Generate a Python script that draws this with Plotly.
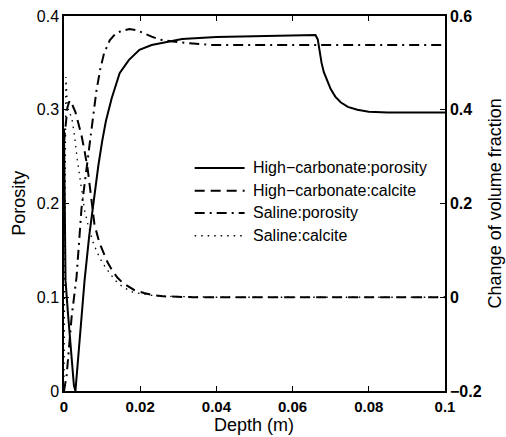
import plotly.graph_objects as go

# ---- data -------------------------------------------------------------
hc_por_depth = [0.0, 0.0002, 0.0004, 0.0010, 0.0018, 0.0026, 0.0030, 0.0042, 0.0054,
                0.0066, 0.0080, 0.0090, 0.0100, 0.0110, 0.0125, 0.0146, 0.0170, 0.0198,
                0.0230, 0.0270, 0.0310, 0.0400, 0.0500, 0.0600, 0.0660, 0.0666, 0.0670,
                0.0676, 0.0682, 0.0690, 0.0700, 0.0712, 0.0726, 0.0745, 0.0770, 0.0800,
                0.0850, 0.0900, 0.1000]
hc_por = [0.280, 0.200, 0.118, 0.085, 0.046, 0.006, 0.000, 0.058, 0.118,
          0.165, 0.210, 0.240, 0.266, 0.288, 0.312, 0.339, 0.353, 0.364,
          0.369, 0.372, 0.3755, 0.3775, 0.3785, 0.3792, 0.3797, 0.375, 0.365,
          0.350, 0.340, 0.331, 0.322, 0.314, 0.308, 0.303, 0.300, 0.298,
          0.297, 0.297, 0.297]

hc_cal_depth = [0.0, 0.0004, 0.0009, 0.0015, 0.0022, 0.0030, 0.0038, 0.0046, 0.0054,
                0.0062, 0.0068, 0.0080, 0.0093, 0.0105, 0.0114, 0.0128, 0.0140, 0.0155,
                0.0170, 0.0185, 0.0210, 0.0230, 0.0260, 0.0300, 0.0340, 0.0600, 0.1000]
hc_cal = [0.33, 0.37, 0.405, 0.42, 0.41, 0.395, 0.372, 0.345, 0.312,
          0.275, 0.235, 0.155, 0.116, 0.092, 0.075, 0.055, 0.042, 0.030,
          0.022, 0.015, 0.009, 0.005, 0.002, 0.0005, 0.0, 0.0, 0.0]

sal_por_depth = [0.0, 0.0007, 0.0020, 0.0033, 0.0046, 0.0056, 0.0065, 0.0075, 0.0085,
                 0.0095, 0.0105, 0.0120, 0.0135, 0.0150, 0.0172, 0.0190, 0.0206, 0.0230,
                 0.0250, 0.0280, 0.0330, 0.0390, 0.0500, 0.0700, 0.1000]
sal_por = [0.0, 0.017, 0.079, 0.122, 0.195, 0.228, 0.258, 0.288, 0.320,
           0.343, 0.360, 0.374, 0.381, 0.384, 0.386, 0.385, 0.382, 0.378,
           0.375, 0.373, 0.371, 0.369, 0.369, 0.369, 0.369]

sal_cal_depth = [0.0, 0.0005, 0.0007, 0.0009, 0.0020, 0.0028, 0.0035, 0.0046, 0.0054,
                 0.0062, 0.0075, 0.0088, 0.0101, 0.0114, 0.0133, 0.0154, 0.0180, 0.0200,
                 0.0230, 0.0270, 0.0320, 0.0400, 0.1000]
sal_cal = [-0.17, 0.47, 0.44, 0.40, 0.385, 0.342, 0.293, 0.235, 0.186,
           0.158, 0.120, 0.094, 0.073, 0.058, 0.037, 0.022, 0.011, 0.008,
           0.004, 0.002, 0.001, 0.0, 0.0]

series_names = ["High\u2212carbonate:porosity", "High\u2212carbonate:calcite",
                "Saline:porosity", "Saline:calcite"]

x_ticks = [0, 0.02, 0.04, 0.06, 0.08, 0.1]
y_left_ticks = [0, 0.1, 0.2, 0.3, 0.4]
y_right_ticks = [-0.2, 0, 0.2, 0.4, 0.6]

# ---- styling ------------------------------------------------------------
FONT = "Liberation Sans, Arial, Helvetica, sans-serif"
styles = [
    dict(width=2, dash="solid"),
    dict(width=2, dash="10px,6px"),
    dict(width=2, dash="10px,5px,2px,5px"),
    dict(width=1.3, dash="1.5px,5px"),
]

fig = go.Figure()
curves = [
    (hc_por_depth, hc_por, "y"),
    (hc_cal_depth, hc_cal, "y2"),
    (sal_por_depth, sal_por, "y"),
    (sal_cal_depth, sal_cal, "y2"),
]
for (xs, ys, yax), name, st in zip(curves, series_names, styles):
    fig.add_trace(go.Scatter(
        x=xs, y=ys, mode="lines", name=name, yaxis=yax, showlegend=False,
        line=dict(color="black", width=st["width"], dash=st["dash"]),
    ))

# legend drawn as line samples + labels inside the axes box
row_y = [0.595, 0.534, 0.475, 0.414]
for name, st, yy in zip(series_names, styles, row_y):
    fig.add_shape(type="line", xref="paper", yref="paper",
                  x0=0.343, x1=0.474, y0=yy, y1=yy,
                  line=dict(color="black", width=st["width"], dash=st["dash"]))
    fig.add_annotation(xref="paper", yref="paper", x=0.492, y=yy,
                       xanchor="left", yanchor="middle", showarrow=False,
                       text=name, font=dict(family=FONT, size=16, color="black"))

# axis titles
fig.add_annotation(xref="paper", yref="paper", x=0.498, y=-0.062,
                   text="Depth (m)", showarrow=False, xanchor="center",
                   yanchor="top", borderpad=0,
                   font=dict(family=FONT, size=18, color="black"))
fig.add_annotation(xref="paper", yref="paper", x=-0.12, y=0.5, textangle=-90,
                   text="Porosity", showarrow=False, xanchor="center",
                   yanchor="middle", font=dict(family=FONT, size=18, color="black"))
fig.add_annotation(xref="paper", yref="paper", x=1.131, y=0.5, textangle=-90,
                   text="Change of volume fraction", showarrow=False, xanchor="center",
                   yanchor="middle", font=dict(family=FONT, size=18, color="black"))

axis_common = dict(showgrid=False, zeroline=False, showline=True, linecolor="black",
                   linewidth=1.5, ticks="inside", ticklen=5, tickwidth=1,
                   tickcolor="black")

fig.update_layout(
    width=506, height=437,
    margin=dict(l=64, r=61, t=16, b=46, autoexpand=False),
    paper_bgcolor="white", plot_bgcolor="white",
    font=dict(family=FONT, color="black"),
    xaxis=dict(range=[0, 0.1], tickvals=x_ticks, mirror="ticks", ticklabelstandoff=1,
               tickfont=dict(family=FONT, size=15, color="black", weight="bold"),
               **axis_common),
    yaxis=dict(range=[0, 0.4], tickvals=y_left_ticks,
               tickfont=dict(family=FONT, size=16, color="black"),
               **axis_common),
    yaxis2=dict(range=[-0.2, 0.6], tickvals=y_right_ticks, overlaying="y",
                side="right",
                tickfont=dict(family=FONT, size=16, color="black", weight="bold"),
                **axis_common),
    showlegend=False,
)

fig.write_html("out.html")
